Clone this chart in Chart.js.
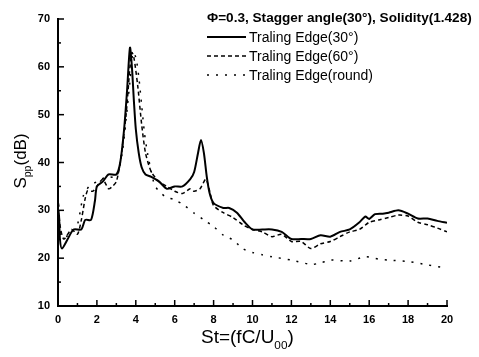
<!DOCTYPE html>
<html>
<head>
<meta charset="utf-8">
<script src="https://cdn.jsdelivr.net/npm/chart.js@4.4.1/dist/chart.umd.min.js"></script>
<style>
  html, body { margin: 0; padding: 0; background: #fff; }
  #wrap { width: 479px; height: 357px; }
</style>
</head>
<body>
<div id="wrap"><canvas id="chart"></canvas></div>
<script>
// Strouhal number positions and Spp (dB), one pair per trailing edge
const st30 = [0, 0.05, 0.1, 0.2, 0.5, 0.8, 1.2, 1.4, 1.7, 1.9, 2.0, 2.3, 2.6, 3.0, 3.2, 3.4, 3.55, 3.7, 3.8, 3.9, 4.0, 4.15, 4.3, 4.5, 4.8, 5.2, 5.6, 6.0, 6.4, 6.8, 7.0, 7.2, 7.35, 7.5, 7.65, 7.8, 8.0, 8.5, 8.8, 9.2, 9.6, 10, 10.5, 11, 11.5, 12, 12.5, 13, 13.5, 14, 14.5, 15, 15.5, 15.8, 16, 16.3, 16.7, 17, 17.5, 18, 18.5, 19, 19.5, 20];
const spp30 = [27, 29, 24, 22, 24, 26, 26, 28, 28, 32, 35, 36, 37.5, 37.5, 40, 47, 55, 64, 60, 53, 47, 42, 39, 37.5, 37, 36, 34.5, 35, 35, 36.5, 38, 42, 44.7, 42, 37, 33.5, 31.5, 30.5, 30.5, 29.5, 27.5, 26, 26, 26, 25.5, 24, 24, 24, 24.8, 24.5, 25.5, 26, 27.5, 28.7, 28.2, 29.2, 29.3, 29.5, 30, 29.3, 28.3, 28.3, 27.8, 27.4];

const st60 = [0, 0.1, 0.3, 0.7, 1.0, 1.2, 1.5, 1.8, 2.0, 2.3, 2.6, 2.8, 3.0, 3.2, 3.5, 3.7, 3.8, 3.9, 4.1, 4.3, 4.5, 4.8, 5.2, 5.6, 6.0, 6.4, 6.8, 7.0, 7.3, 7.6, 7.8, 8.0, 8.5, 9.0, 9.5, 10, 10.5, 11, 11.5, 12, 12.5, 13, 13.5, 14, 14.5, 15, 15.5, 16, 16.5, 17, 17.5, 18, 18.5, 19, 19.5, 20];
const spp60 = [33, 27, 24, 26, 25, 28, 34, 34, 35, 36.5, 34.5, 35, 36, 40, 50, 60, 63, 62, 56, 48, 42, 38, 36, 35, 34, 33.5, 34.5, 34, 34.5, 36.5, 34, 31, 29.5, 28.5, 27, 26, 25.5, 24.5, 25, 23.5, 23.5, 22, 23, 23.5, 24.5, 25.5, 26, 27.5, 28, 28.5, 29, 28.8, 27.5, 27, 26.3, 25.5];

const stRound = [0, 0.05, 0.15, 0.4, 0.7, 1.0, 1.3, 1.6, 2.0, 2.5, 3.0, 3.3, 3.5, 3.7, 3.85, 4.0, 4.15, 4.3, 4.45, 4.6, 4.8, 5.0, 5.5, 6.0, 6.5, 7.0, 7.5, 8.0, 8.5, 9.0, 9.5, 10, 10.5, 11, 12, 13, 13.5, 14, 15, 15.8, 16.5, 17, 18, 19, 20];
const sppRound = [35, 29, 25, 24.5, 25.5, 27, 33, 35, 36, 37, 37, 42, 49, 57, 63, 62, 58, 52, 46, 42, 38, 35, 32.9, 32.2, 31, 29.4, 28, 26.6, 24.8, 23.8, 22, 21.2, 20.7, 20.3, 19.6, 18.7, 19, 19.6, 19.4, 20.3, 19.8, 19.6, 19.3, 18.6, 17.9];

const seriesNames = ['Traling Edge(30°)', 'Traling Edge(60°)', 'Traling Edge(round)'];
const legendTitle = 'Φ=0.3, Stagger angle(30°), Solidity(1.428)';

function pairs(xs, ys) {
    return xs.map((v, i) => ({x: v, y: ys[i]}));
}

// draws text pieces on one baseline, pieces with sub:true are smaller and lower
function richText(ctx, parts, x, y, size) {
    let cx = x;
    parts.forEach(p => {
        ctx.font = (p.sub ? size * 0.62 : size) + 'px "Liberation Sans", Arial, sans-serif';
        ctx.fillText(p.t, cx, p.sub ? y + size * 0.3 : y);
        cx += ctx.measureText(p.t).width;
    });
}

function richWidth(ctx, parts, size) {
    let w = 0;
    parts.forEach(p => {
        ctx.font = (p.sub ? size * 0.62 : size) + 'px "Liberation Sans", Arial, sans-serif';
        w += ctx.measureText(p.t).width;
    });
    return w;
}

const decorations = {
    id: 'decorations',
    afterDraw(chart) {
        const {ctx, chartArea: a, scales: {x, y}} = chart;
        ctx.save();
        ctx.strokeStyle = '#000';
        ctx.fillStyle = '#000';
        ctx.lineWidth = 1.5;

        // inward ticks
        for (let v = 0; v <= 20; v++) {
            const px = x.getPixelForValue(v);
            const len = v % 2 === 0 ? 6 : 3;
            ctx.beginPath();
            ctx.moveTo(px, a.bottom);
            ctx.lineTo(px, a.bottom - len);
            ctx.stroke();
        }
        for (let v = 10; v <= 70; v += 5) {
            const py = y.getPixelForValue(v);
            const len = v % 10 === 0 ? 6 : 3;
            ctx.beginPath();
            ctx.moveTo(a.left, py);
            ctx.lineTo(a.left + len, py);
            ctx.stroke();
        }

        // axis titles
        ctx.textBaseline = 'alphabetic';
        ctx.textAlign = 'left';
        const xt = [{t: 'St=(fC/U'}, {t: '00', sub: true}, {t: ')'}];
        richText(ctx, xt, 201, 343, 19);

        const yt = [{t: 'S'}, {t: 'pp', sub: true}, {t: '(dB)'}];
        const yw = richWidth(ctx, yt, 17);
        ctx.save();
        ctx.translate(26, 161);
        ctx.rotate(-Math.PI / 2);
        richText(ctx, yt, -yw / 2, 0, 17);
        ctx.restore();

        // legend
        ctx.font = 'bold 13.6px "Liberation Sans", Arial, sans-serif';
        ctx.fillText(legendTitle, 207, 22);
        ctx.font = '14px "Liberation Sans", Arial, sans-serif';
        ctx.textBaseline = 'middle';
        chart.data.datasets.forEach((ds, i) => {
            const ly = 37 + i * 19;
            ctx.save();
            ctx.strokeStyle = ds.borderColor;
            ctx.lineWidth = ds.borderWidth;
            ctx.setLineDash(ds.borderDash || []);
            ctx.beginPath();
            ctx.moveTo(207, ly);
            ctx.lineTo(246, ly);
            ctx.stroke();
            ctx.restore();
            ctx.fillText(ds.label, 249, ly + 1);
        });
        ctx.restore();
    }
};

new Chart(document.getElementById('chart'), {
    type: 'line',
    data: {
        datasets: [
            {
                label: seriesNames[0],
                data: pairs(st30, spp30),
                borderColor: '#000',
                borderWidth: 2,
                pointRadius: 0,
                tension: 0.25
            },
            {
                label: seriesNames[1],
                data: pairs(st60, spp60),
                borderColor: '#000',
                borderWidth: 1.5,
                borderDash: [4, 3],
                pointRadius: 0,
                tension: 0.25
            },
            {
                label: seriesNames[2],
                data: pairs(stRound, sppRound),
                borderColor: '#000',
                borderWidth: 1.5,
                borderDash: [2, 7],
                pointRadius: 0,
                tension: 0.25
            }
        ]
    },
    options: {
        responsive: true,
        maintainAspectRatio: false,
        animation: false,
        layout: {padding: {top: 19, right: 32, left: 0, bottom: 0}},
        plugins: {
            legend: {display: false},
            tooltip: {enabled: false}
        },
        scales: {
            x: {
                type: 'linear',
                min: 0,
                max: 20,
                grid: {display: false, drawTicks: false},
                border: {display: true, color: '#000', width: 2},
                ticks: {
                    stepSize: 2,
                    autoSkip: false,
                    maxRotation: 0,
                    padding: 7,
                    color: '#000',
                    font: {family: '"Liberation Sans", Arial, sans-serif', size: 11, weight: 'bold'}
                },
                afterFit(scale) { scale.height = 51; }
            },
            y: {
                min: 10,
                max: 70,
                grid: {display: false, drawTicks: false},
                border: {display: true, color: '#000', width: 2},
                ticks: {
                    stepSize: 10,
                    padding: 8,
                    color: '#000',
                    font: {family: '"Liberation Sans", Arial, sans-serif', size: 11, weight: 'bold'}
                },
                afterFit(scale) { scale.width = 58; }
            }
        }
    },
    plugins: [decorations]
});
</script>
</body>
</html>
